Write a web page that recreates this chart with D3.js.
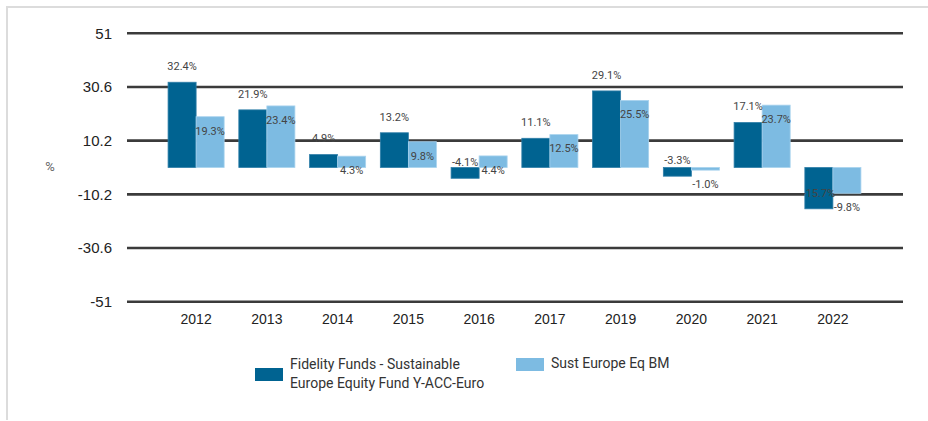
<!DOCTYPE html>
<html>
<head>
<meta charset="utf-8">
<script src="https://cdn.jsdelivr.net/npm/d3@7"></script>
<style>
  body { margin: 0; background: #fff; }
  svg { font-family: Roboto, "Open Sans", sans-serif; }
  .grid line { stroke: #3b3b3b; stroke-width: 2.6; }
  .axis text { fill: #222; }
</style>
</head>
<body>
<div id="chart"></div>
<script>
// data
const years = ['2012', '2013', '2014', '2015', '2016', '2017', '2019', '2020', '2021', '2022'];
const fundValues = [32.4, 21.9, 4.9, 13.2, -4.1, 11.1, 29.1, -3.3, 17.1, -15.7];
const benchValues = [19.3, 23.4, 4.3, 9.8, 4.4, 12.5, 25.5, -1.0, 23.7, -9.8];
const yTicks = [51, 30.6, 10.2, -10.2, -30.6, -51];
const seriesNames = ['Fidelity Funds - Sustainable|Europe Equity Fund Y-ACC-Euro', 'Sust Europe Eq BM'];

const width = 928, height = 421;
const colors = ['#006391', '#7dbbe2'];

const svg = d3.select('#chart').append('svg')
    .attr('width', width)
    .attr('height', height);

// outer frame (only top and left edges visible)
svg.append('line').attr('x1', 6).attr('x2', width).attr('y1', 7).attr('y2', 7)
    .attr('stroke', '#dcdcdc').attr('stroke-width', 2);
svg.append('line').attr('x1', 7).attr('x2', 7).attr('y1', 7).attr('y2', 420)
    .attr('stroke', '#dcdcdc').attr('stroke-width', 2);

const yScale = d3.scaleLinear()
    .domain([-51, 51])
    .range([301.7, 33.3]);

const xScale = d3.scaleBand()
    .domain(years)
    .range([161, 868])
    .paddingInner(0.2075)
    .paddingOuter(0.1);

const xSub = d3.scaleBand()
    .domain([0, 1])
    .range([0, xScale.bandwidth()]);

// gridlines
const grid = svg.append('g').attr('class', 'grid');
grid.selectAll('line')
    .data(yTicks)
    .join('line')
    .attr('x1', 127)
    .attr('x2', 903)
    .attr('y1', d => yScale(d))
    .attr('y2', d => yScale(d));

// y axis labels
const yAxis = d3.axisLeft(yScale)
    .tickValues(yTicks)
    .tickSize(0)
    .tickPadding(0)
    .tickFormat(d => String(d));
svg.append('g')
    .attr('class', 'axis')
    .attr('transform', 'translate(112,0)')
    .call(yAxis)
    .call(g => g.select('.domain').remove())
    .selectAll('text')
    .style('font-size', '15px');

svg.append('text')
    .attr('x', 50)
    .attr('y', 166)
    .attr('dy', '0.35em')
    .attr('text-anchor', 'middle')
    .style('font-size', '13px')
    .attr('fill', '#666')
    .text('%');

// x axis labels
const xAxis = d3.axisBottom(xScale).tickSize(0).tickPadding(0);
svg.append('g')
    .attr('class', 'axis')
    .attr('transform', 'translate(0,314)')
    .call(xAxis)
    .call(g => g.select('.domain').remove())
    .selectAll('text')
    .attr('dy', '0.71em')
    .style('font-size', '14px')
    .attr('fill', '#444');

// bars
const series = [fundValues, benchValues];
series.forEach((vals, si) => {
    svg.append('g').selectAll('rect')
        .data(vals)
        .join('rect')
        .attr('x', (d, i) => xScale(years[i]) + xSub(si))
        .attr('width', xSub.bandwidth())
        .attr('y', d => yScale(Math.max(0, d)))
        .attr('height', d => Math.abs(yScale(d) - yScale(0)))
        .attr('fill', colors[si])
        .attr('stroke', si === 0 ? '#2f7ea8' : '#a9d3ee')
        .attr('stroke-width', 0.8);
});

// value labels: fund above the bar end, benchmark just below it
series.forEach((vals, si) => {
    svg.append('g').selectAll('text')
        .data(vals)
        .join('text')
        .attr('x', (d, i) => xScale(years[i]) + xSub(si) + xSub.bandwidth() / 2)
        .attr('y', d => yScale(d) + (si === 0 ? -16 : 14))
        .attr('dy', '0.35em')
        .attr('text-anchor', 'middle')
        .style('font-size', '11px')
        .attr('fill', '#444')
        .text(d => d.toFixed(1) + '%');
});

// legend
const legend = svg.append('g');
legend.append('rect').attr('x', 255).attr('y', 368).attr('width', 28).attr('height', 13).attr('fill', colors[0]);
const l1 = legend.append('text')
    .attr('x', 290)
    .attr('y', 364)
    .style('font-size', '14px')
    .attr('fill', '#333');
seriesNames[0].split('|').forEach((t, i) => {
    l1.append('tspan').attr('x', 290).attr('y', 364 + i * 19).attr('dy', '0.35em').text(t);
});
legend.append('rect').attr('x', 516).attr('y', 358).attr('width', 28).attr('height', 13).attr('fill', colors[1]);
legend.append('text')
    .attr('x', 551)
    .attr('y', 363)
    .attr('dy', '0.35em')
    .style('font-size', '14px')
    .attr('fill', '#333')
    .text(seriesNames[1]);
</script>
</body>
</html>
